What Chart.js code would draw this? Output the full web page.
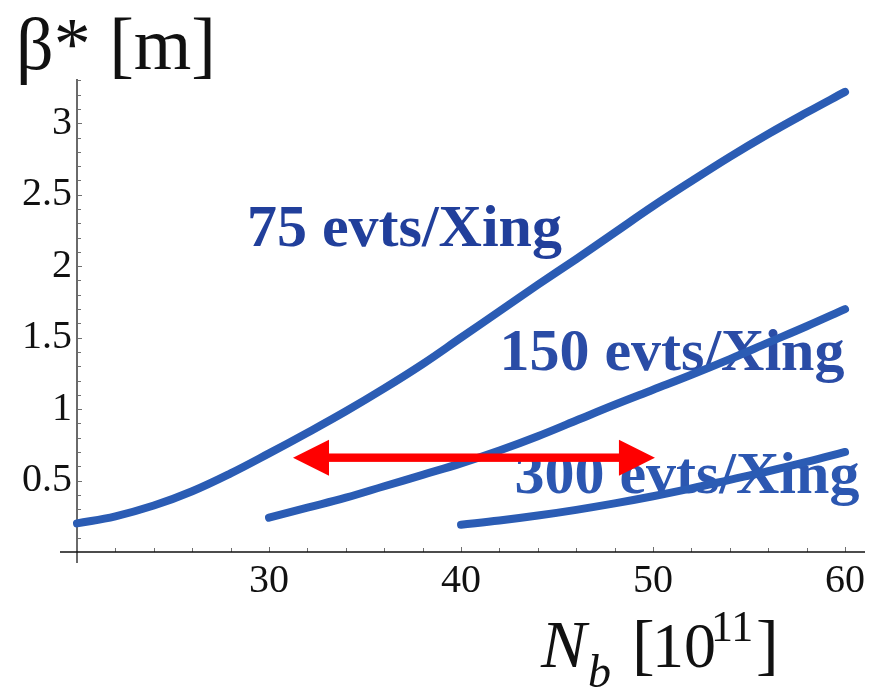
<!DOCTYPE html>
<html>
<head>
<meta charset="utf-8">
<script src="https://cdn.jsdelivr.net/npm/chart.js@4.4.1/dist/chart.umd.min.js"></script>
<style>
  html, body { margin: 0; padding: 0; background: #ffffff; }
  canvas { display: block; }
</style>
</head>
<body>
<canvas id="beta" width="881" height="690"></canvas>
<script>
// Bunch intensity N_b [1e11] and the beta* [m] needed for a fixed pile-up
const nb75 = [20, 22, 24, 26, 28, 30, 32, 34, 36, 38, 40, 42, 44, 46, 48, 50, 52, 54, 56, 58, 60];
const beta75 = [0.20, 0.25, 0.325, 0.425, 0.55, 0.69, 0.835, 0.985, 1.145, 1.315, 1.50, 1.685, 1.87, 2.05, 2.235, 2.42, 2.595, 2.765, 2.925, 3.075, 3.22];

const nb150 = [30, 32, 34, 36, 38, 40, 42, 44, 46, 48, 50, 52, 54, 56, 58, 60];
const beta150 = [0.24, 0.31, 0.38, 0.46, 0.54, 0.62, 0.71, 0.81, 0.92, 1.03, 1.135, 1.24, 1.35, 1.465, 1.58, 1.70];

const nb300 = [40, 42, 44, 46, 48, 50, 52, 54, 56, 58, 60];
const beta300 = [0.19, 0.22, 0.255, 0.295, 0.34, 0.39, 0.445, 0.505, 0.565, 0.63, 0.70];

const curveLabels = ['75 evts/Xing', '150 evts/Xing', '300 evts/Xing'];

// Range marked by the double arrow
const arrowNb = [31.25, 50.1];
const arrowBeta = 0.66;

const xTickLabels = [30, 40, 50, 60];
const yTickLabels = [0.5, 1, 1.5, 2, 2.5, 3];

const LINE_BLUE = '#2b5cb4';
const SERIF = '"Liberation Serif", "Times New Roman", serif';

function pts(xs, ys) { return xs.map((x, i) => ({ x: x, y: ys[i] })); }

function curve(xs, ys) {
  return {
    data: pts(xs, ys),
    borderColor: LINE_BLUE,
    borderWidth: 8,
    borderCapStyle: 'round',
    borderJoinStyle: 'round',
    pointRadius: 0,
    tension: 0.4,
    fill: false,
    clip: false
  };
}

// Axes drawn Mathematica-style: crossing lines with inward tick marks
const axesPlugin = {
  id: 'axes',
  beforeDatasetsDraw(chart) {
    const { ctx, scales: { x, y } } = chart;
    const x0 = x.getPixelForValue(20);
    const y0 = y.getPixelForValue(0);
    ctx.save();
    // tick marks on the y axis
    ctx.strokeStyle = '#707070';
    ctx.lineWidth = 1;
    for (let i = 1; i <= 33; i++) {
      const py = Math.round(y.getPixelForValue(i / 10)) + 0.5;
      const len = (i % 5 === 0) ? 5 : 4;
      ctx.beginPath();
      ctx.moveTo(x0, py);
      ctx.lineTo(x0 + len, py);
      ctx.stroke();
    }
    // tick marks on the x axis
    for (let v = 22; v <= 60; v += 2) {
      const px = Math.round(x.getPixelForValue(v)) + 0.5;
      const len = (v % 10 === 0) ? 5 : 4;
      ctx.beginPath();
      ctx.moveTo(px, y0);
      ctx.lineTo(px, y0 - len);
      ctx.stroke();
    }
    // y axis line
    ctx.strokeStyle = '#6a6a6a';
    ctx.lineWidth = 2;
    ctx.beginPath();
    ctx.moveTo(x0, chart.chartArea.top);
    ctx.lineTo(x0, y0 + 11);
    ctx.stroke();
    // x axis line
    ctx.strokeStyle = '#111111';
    ctx.lineWidth = 1.5;
    ctx.beginPath();
    ctx.moveTo(x0 - 17, y0);
    ctx.lineTo(chart.chartArea.right, y0);
    ctx.stroke();

    // curve labels sit beneath the lines
    const labelPos = [
      { nb: 28.85, beta: 2.14, color: '#213f9b' },
      { nb: 42.0, beta: 1.273, color: '#2a4ca6' },
      { nb: 42.78, beta: 0.413, color: '#2c57b1' }
    ];
    ctx.font = 'bold 60px ' + SERIF;
    ctx.textBaseline = 'alphabetic';
    ctx.textAlign = 'left';
    labelPos.forEach((p, i) => {
      ctx.fillStyle = p.color;
      ctx.fillText(curveLabels[i], x.getPixelForValue(p.nb), y.getPixelForValue(p.beta));
    });
    ctx.restore();
  },
  afterDatasetsDraw(chart) {
    const { ctx, scales: { x, y } } = chart;
    const xl = x.getPixelForValue(arrowNb[0]);
    const xr = x.getPixelForValue(arrowNb[1]);
    const ya = y.getPixelForValue(arrowBeta);
    const head = 36, half = 18, shaft = 4.2;
    ctx.save();
    ctx.fillStyle = '#ff0000';
    ctx.fillRect(xl + head - 1, ya - shaft, (xr - xl) - 2 * head + 2, shaft * 2);
    ctx.beginPath();
    ctx.moveTo(xl, ya);
    ctx.lineTo(xl + head, ya - half);
    ctx.lineTo(xl + head, ya + half);
    ctx.closePath();
    ctx.fill();
    ctx.beginPath();
    ctx.moveTo(xr, ya);
    ctx.lineTo(xr - head, ya - half);
    ctx.lineTo(xr - head, ya + half);
    ctx.closePath();
    ctx.fill();
    ctx.restore();
  },
  afterDraw(chart) {
    const ctx = chart.ctx;
    ctx.save();
    ctx.fillStyle = '#111111';
    ctx.textBaseline = 'alphabetic';
    ctx.textAlign = 'left';
    // y axis title
    ctx.font = '74px ' + SERIF;
    ctx.fillText('β* [m]', 16, 69);
    // x axis title: N_b [10^11]
    ctx.font = 'italic 68px ' + SERIF;
    ctx.fillText('N', 541, 667);
    ctx.font = 'italic 46px ' + SERIF;
    ctx.fillText('b', 588, 687);
    ctx.font = '68px ' + SERIF;
    ctx.fillText('[', 632, 667);
    ctx.font = '64px ' + SERIF;
    ctx.fillText('10', 652, 667);
    ctx.font = '44px ' + SERIF;
    ctx.fillText('11', 711, 641);
    ctx.font = '68px ' + SERIF;
    ctx.fillText(']', 756, 667);
    ctx.restore();
  }
};

new Chart(document.getElementById('beta'), {
  type: 'line',
  data: {
    datasets: [curve(nb75, beta75), curve(nb150, beta150), curve(nb300, beta300)]
  },
  options: {
    responsive: false,
    animation: false,
    devicePixelRatio: 1,
    layout: { padding: { top: 79, right: 16, left: 0, bottom: 0 } },
    plugins: { legend: { display: false }, tooltip: { enabled: false } },
    scales: {
      x: {
        type: 'linear',
        min: 20,
        max: 61.04,
        border: { display: false },
        grid: { display: false, drawTicks: false },
        ticks: {
          stepSize: 10,
          includeBounds: false,
          autoSkip: false,
          maxRotation: 0,
          padding: 5,
          color: '#111111',
          font: { family: SERIF, size: 40 },
          callback: v => xTickLabels.includes(v) ? String(v) : ''
        },
        afterFit: s => { s.height = 138; }
      },
      y: {
        type: 'linear',
        min: 0,
        max: 3.31,
        border: { display: false },
        grid: { display: false, drawTicks: false },
        ticks: {
          stepSize: 0.5,
          includeBounds: false,
          autoSkip: false,
          padding: 5,
          color: '#111111',
          font: { family: SERIF, size: 40 },
          callback: v => yTickLabels.includes(v) ? String(v) : ''
        },
        afterFit: s => { s.width = 77; }
      }
    }
  },
  plugins: [axesPlugin]
});
</script>
</body>
</html>
